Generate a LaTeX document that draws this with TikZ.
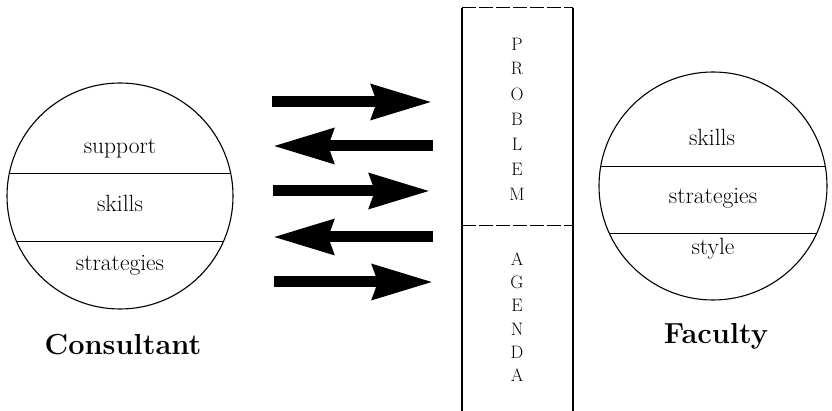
\documentclass[tikz,border=0pt]{standalone}
\usetikzlibrary{arrows.meta}
\begin{document}
\begin{tikzpicture}[x=1pt,y=-1pt,
  ring/.style={draw,line width=1.1pt},
  chord/.style={line width=1.0pt},
  lab/.style={font=\fontsize{23.5}{28}\selectfont,anchor=base,inner sep=0pt},
  title/.style={font=\fontsize{29}{34}\selectfont\bfseries,anchor=base,inner sep=0pt},
  letter/.style={font=\fontsize{18}{21}\selectfont,inner sep=0pt},
  fatarrow/.style={line width=11pt,-{Stealth[length=60pt,width=34pt,inset=5pt]}},
  boxline/.style={line width=1.1pt},
  boxdash/.style={line width=1.0pt,dash pattern=on 14pt off 3pt}]
\useasboundingbox (0,0) rectangle (832,411);
% left circle
\node[ring,circle,minimum size=226pt,inner sep=0pt] (cons) at (120,196) {};
\begin{scope}
  \clip (120,196) circle (113pt);
  \draw[chord] (0,174) -- (240,174);
  \draw[chord] (0,242) -- (240,242);
\end{scope}
\node[lab] (c1) at (120,154) {support};
\node[lab] (c2) at (120,212) {skills};
\node[lab] (c3) at (120,271) {strategies};
\node[title] (ct) at (123,355) {Consultant};
% right circle
\node[ring,circle,minimum size=228pt,inner sep=0pt] (fac) at (713,186) {};
\begin{scope}
  \clip (713,186) circle (114pt);
  \draw[chord] (590,167) -- (840,167);
  \draw[chord] (590,234) -- (840,234);
\end{scope}
\node[lab] (f1) at (712,146) {skills};
\node[lab] (f2) at (713,204) {strategies};
\node[lab] (f3) at (713,255) {style};
\node[title] (ft) at (716,343) {Faculty};
% central column
\coordinate (tl) at (462,8);
\coordinate (tr) at (573,8);
\coordinate (bl) at (462,411);
\coordinate (br) at (573,411);
\coordinate (ml) at (462,226);
\coordinate (mr) at (573,226);
\draw[boxline] (tl) -- (bl);
\draw[boxline] (tr) -- (br);
\draw[boxdash] (tl) -- (tr);
\draw[boxdash] (ml) -- (mr);
\foreach \l [count=\i] in {P,R,O,B,L,E,M}
  \node[letter] (p\i) at (517,{44+(\i-1)*25}) {\l};
\foreach \l [count=\i] in {A,G,E,N,D,A}
  \node[letter] (a\i) at (517,{259+(\i-1)*23.3}) {\l};
% arrows
\coordinate (r1a) at (272,102); \coordinate (r1b) at (432,102);
\coordinate (l2a) at (433,146); \coordinate (l2b) at (273,146);
\coordinate (r3a) at (273,191); \coordinate (r3b) at (430,191);
\coordinate (l4a) at (433,237); \coordinate (l4b) at (273,237);
\coordinate (r5a) at (274,282); \coordinate (r5b) at (433,282);
\draw[fatarrow] (r1a) -- (r1b);
\draw[fatarrow] (l2a) -- (l2b);
\draw[fatarrow] (r3a) -- (r3b);
\draw[fatarrow] (l4a) -- (l4b);
\draw[fatarrow] (r5a) -- (r5b);
\end{tikzpicture}
\end{document}
